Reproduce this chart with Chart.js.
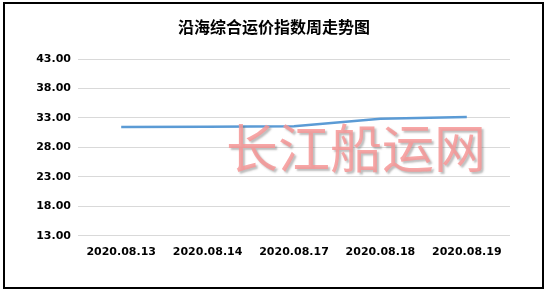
<!DOCTYPE html>
<html>
<head>
<meta charset="utf-8">
<script src="https://cdn.jsdelivr.net/npm/chart.js@4"></script>
<style>
  html, body { margin: 0; padding: 0; background: #fff; }
  body { width: 548px; height: 294px; position: relative; overflow: hidden; }
  #frame {
    position: absolute; left: 3px; top: 2px; width: 537px; height: 283px;
    border: 2px solid #000;
  }
  #wrap { position: absolute; left: 0; top: 0; width: 548px; height: 294px; }
  #title {
    position: absolute; left: 0; width: 548px; top: 15px; text-align: center;
    font: bold 16px/22px "Noto Sans CJK SC", sans-serif; color: #000;
  }
  #mark {
    position: absolute; left: 226px; top: 120px;
    font: 52px/1 "Noto Sans CJK SC", sans-serif;
    color: rgba(246, 150, 150, 0.85);
    text-shadow: 2px 2px 2px rgba(110, 110, 110, 0.45);
    white-space: nowrap; pointer-events: none;
  }
</style>
</head>
<body>
<div id="frame"></div>
<div id="wrap"><canvas id="chart"></canvas></div>
<div id="title"></div>
<div id="mark">长江船运网</div>
<script>
// chart data
const TITLE = '沿海综合运价指数周走势图';
const categories  = ['2020.08.13', '2020.08.14', '2020.08.17', '2020.08.18', '2020.08.19'];
const indexValues = [31.47, 31.5, 31.58, 32.85, 33.15];
const yMin = 13, yMax = 43, yStep = 5;

document.getElementById('title').textContent = TITLE;

const tickFont = { family: "'DejaVu Sans', sans-serif", size: 11, weight: 'bold' };

new Chart(document.getElementById('chart'), {
  type: 'line',
  data: {
    labels: categories,
    datasets: [{
      data: indexValues,
      borderColor: '#5b9bd5',
      borderWidth: 2.5,
      pointRadius: 0,
      tension: 0,
      fill: false,
    }]
  },
  options: {
    responsive: true,
    maintainAspectRatio: false,
    animation: false,
    layout: { padding: { left: 0, right: 38, top: 59, bottom: 25 } },
    plugins: {
      legend: { display: false },
      tooltip: { enabled: false },
      title: { display: false }
    },
    scales: {
      x: {
        offset: true,
        grid: { display: false, drawTicks: false },
        border: { display: false },
        ticks: { color: '#000', font: tickFont, padding: 10, maxRotation: 0, autoSkip: false }
      },
      y: {
        min: yMin, max: yMax,
        afterFit: s => { s.width = 78; },
        grid: { color: '#d9d9d9', drawTicks: false, lineWidth: 1 },
        border: { display: false },
        ticks: {
          stepSize: yStep, color: '#000', font: tickFont, padding: 7,
          callback: v => v.toFixed(2)
        }
      }
    }
  }
});
</script>
</body>
</html>
